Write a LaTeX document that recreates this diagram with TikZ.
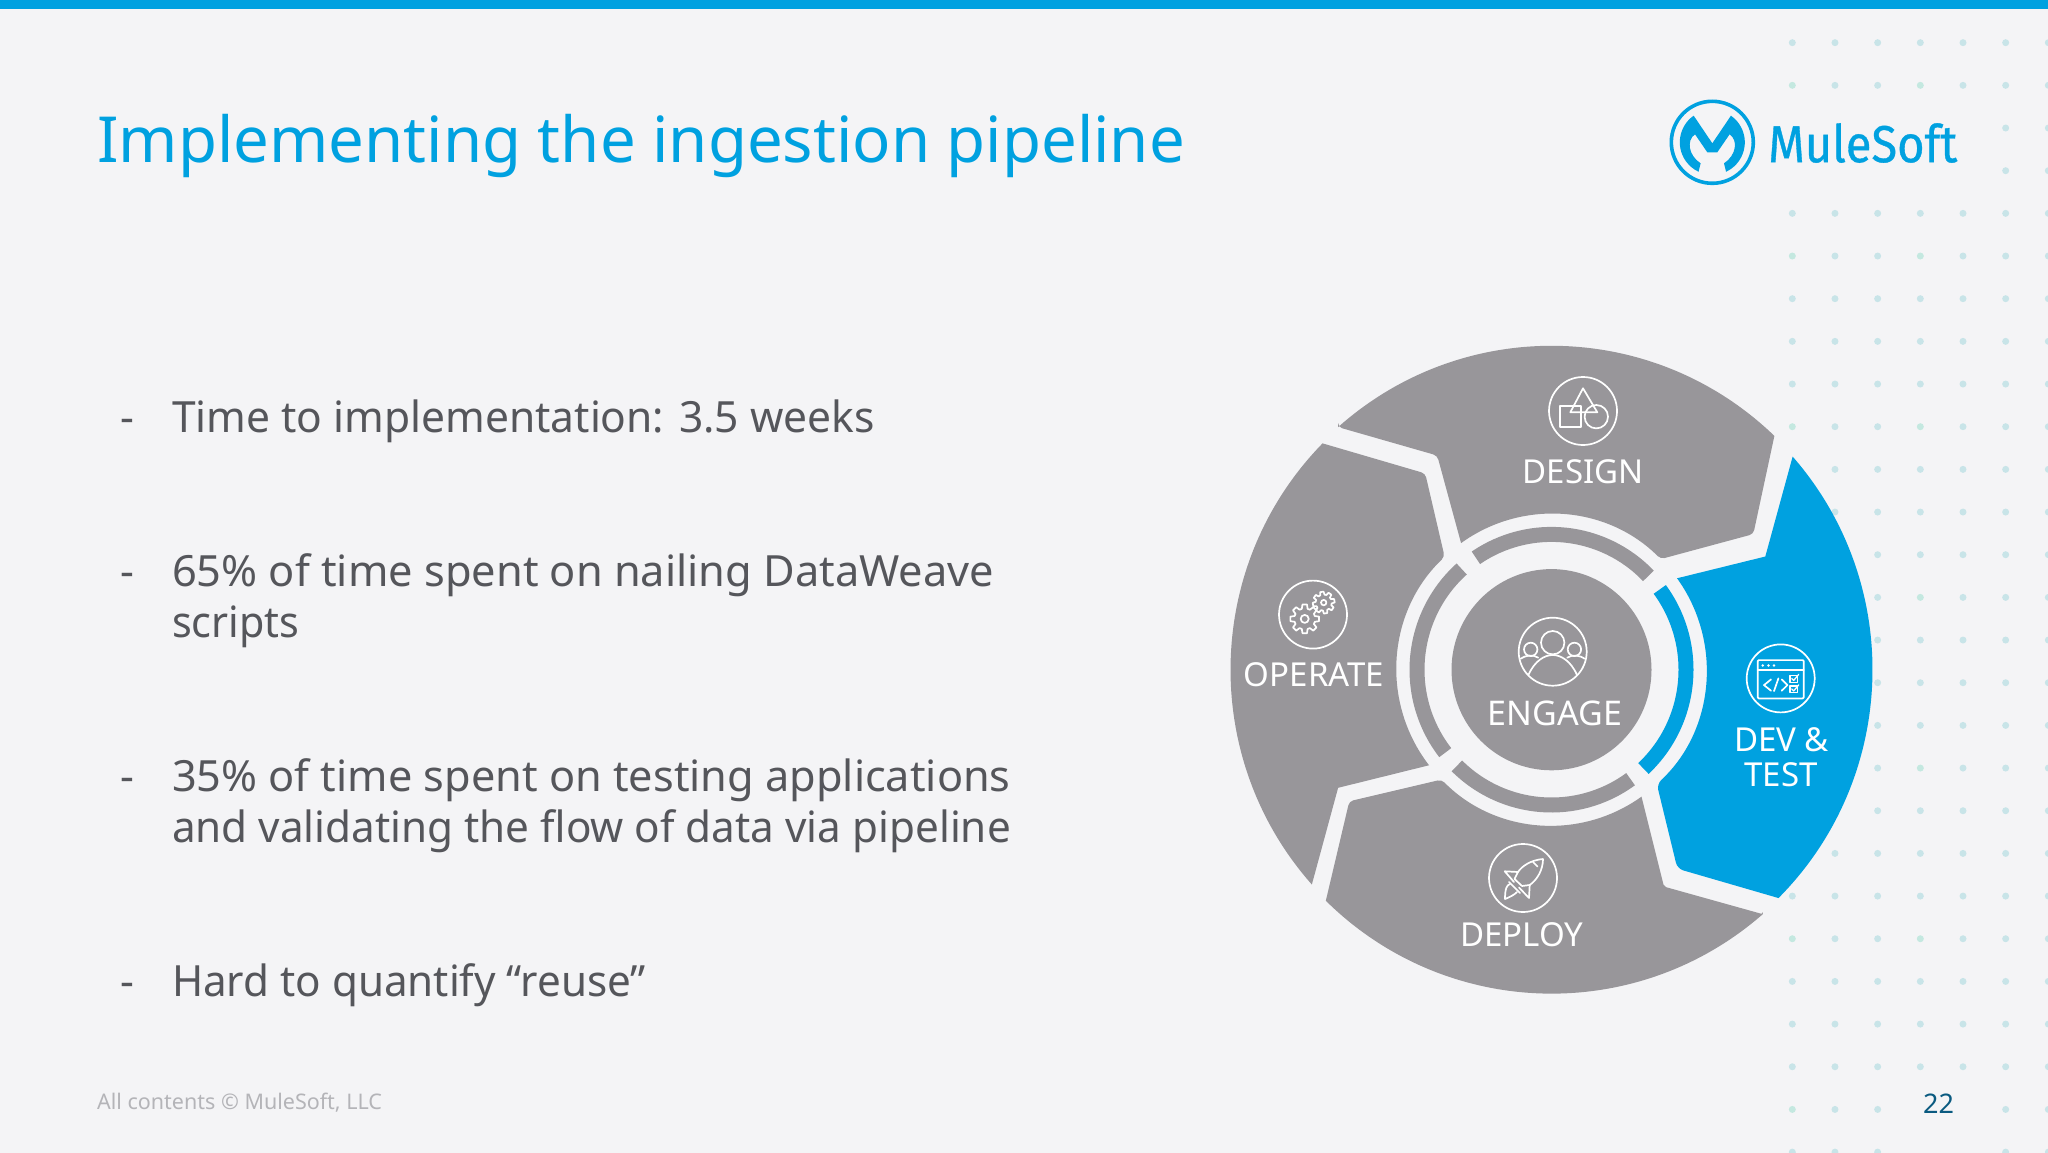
\documentclass[tikz,border=0pt]{standalone}
\usepackage{fontspec}
\setmainfont{Noto Sans}
\newfontfamily\logofont[FakeBold=0.7]{Fira Sans}
\definecolor{bgc}{HTML}{F4F4F6}
\definecolor{sfblue}{HTML}{00A1E0}
\definecolor{wheelgray}{HTML}{98969A}
\definecolor{bodytxt}{HTML}{55565B}
\definecolor{foot}{HTML}{B4B4B8}
\definecolor{pagenum}{HTML}{0A5A80}
\definecolor{dotc}{HTML}{C8E4E8}
\definecolor{dotm}{HTML}{C4E8E0}
\tikzset{
  txt/.style={anchor=base west,inner sep=0pt,outer sep=0pt,font=\fontsize{43}{50}\selectfont,text=bodytxt},
  lab/.style={anchor=base,inner sep=0pt,outer sep=0pt,font=\fontsize{33}{38}\selectfont,text=white},
  ico/.style={draw=white,line width=1.7pt,line cap=round,line join=round},
  seg/.style={line join=round}
}
\newcommand{\gearpath}[6]{% x y ro ri hole rot
  \draw[ico] (#1,#2) circle[radius=#5];
  \draw[ico] ({#1+#3*cos(#6-9)},{#2+#3*sin(#6-9)})
    \foreach \t in {0,45,...,315}{
      -- ({#1+#3*cos(\t+#6-9)},{#2+#3*sin(\t+#6-9)})
      -- ({#1+#3*cos(\t+#6+9)},{#2+#3*sin(\t+#6+9)})
      -- ({#1+#4*cos(\t+#6+16)},{#2+#4*sin(\t+#6+16)})
      -- ({#1+#4*cos(\t+#6+29)},{#2+#4*sin(\t+#6+29)})
    } -- cycle;
}
\begin{document}
\begin{tikzpicture}[x=1pt,y=1pt]
\useasboundingbox (0,0) rectangle (2048,-1153);
\fill[bgc] (0,0) rectangle (2048,-1153);
\fill[sfblue] (0,0) rectangle (2048,-9);
% dots
\begin{scope}
\clip (0,0) rectangle (2048,-1153);
\foreach \k in {1,...,27}{
  \foreach \i in {0,...,6}{
    \pgfmathsetmacro{\dx}{1792.3+42.67*\i}
    \pgfmathsetmacro{\dy}{42.67*\k}
    \pgfmathsetmacro{\rr}{veclen(\dx-1551.5,\dy-669.5)}
    \pgfmathtruncatemacro{\keep}{(\rr>318)*(1-((\k==3||\k==4)&&\i<5))*(1-(\k>25&&(\i==3||\i==4)))}
    \pgfmathtruncatemacro{\mint}{(Mod(\k,4)==2)&&(\i==0||\i==3)}
    \ifnum\keep=1
      \ifnum\mint=1
        \fill[dotm] (\dx,-\dy) circle[radius=3.5];
      \else
        \fill[dotc] (\dx,-\dy) circle[radius=3.5];
      \fi
    \fi
  }
}
\end{scope}
% title
\node[anchor=base west,inner sep=0pt,font=\fontsize{63.5}{72}\selectfont,text=sfblue] (title) at (97,-162.2) {Implementing the ingestion pipeline};
% logo
\begin{scope}[shift={(1712.3,-142.3)}]
\draw[sfblue,line width=3.6pt] (0,0) circle[radius=41];
\fill[sfblue] (125:32.5) arc[start angle=125,end angle=245,radius=32.5]
  -- (-11.7,-21) .. controls (-24,-13) and (-26,2) .. (-17.3,8) -- (-5,-10) -- (5,-10) -- (17.3,8)
  .. controls (26,2) and (24,-13) .. (11.7,-21) -- (-65:32.5)
  arc[start angle=-65,end angle=55,radius=32.5] -- (0,-1) -- cycle;
\end{scope}
\node[anchor=base west,inner sep=0pt,font=\logofont\fontsize{52}{60}\selectfont,text=sfblue] (logo) at (1768,-162.2) {\scalebox{0.905}[1]{MuleSoft}};
% bullets
\node[txt] (d1) at (120,-432) {-};
\node[txt] (b1) at (172,-432) {\scalebox{0.989}[1]{Time to implementation: 3.5 weeks}};
\node[txt] (d2) at (120,-586) {-};
\node[txt] (b2a) at (172,-586) {\scalebox{1.008}[1]{65\% of time spent on nailing DataWeave}};
\node[txt] (b2b) at (172,-637) {\scalebox{0.96}[1]{scripts}};
\node[txt] (d3) at (120,-791) {-};
\node[txt] (b3a) at (172,-791) {\scalebox{1.006}[1]{35\% of time spent on testing applications}};
\node[txt] (b3b) at (172,-842) {\scalebox{0.982}[1]{and validating the flow of data via pipeline}};
\node[txt] (d4) at (120,-996) {-};
\node[txt] (b4) at (172,-996) {\scalebox{0.981}[1]{Hard to quantify “reuse”}};
% footer
\node[anchor=base west,inner sep=0pt,font=\fontsize{21.5}{26}\selectfont,text=foot] (foot) at (97,-1109.3) {All contents © MuleSoft, LLC};
\node[anchor=base west,inner sep=0pt,font=\fontsize{27}{32}\selectfont,text=pagenum] (page) at (1923,-1113) {22};
% wheel
\begin{scope}[shift={(1551.5,-669.7)},yscale=1.006]
\fill[wheelgray,seg] (131.5:322) arc[start angle=131.5,end angle=46.2,radius=322]
  [rounded corners=4] -- (201.8,134.8) -- (45.2:155) [sharp corners]
  arc[start angle=45.2,end angle=125.7,radius=155]
  [rounded corners=4] -- (-114.3,212.9) -- (131.5:322) [sharp corners] -- cycle;
\fill[sfblue,seg] (41.3:321) arc[start angle=41.3,end angle=-45,radius=321]
  [rounded corners=6] -- (125.9,-197.8) -- (-47.2:155) [sharp corners]
  arc[start angle=-47.2,end angle=35.9,radius=155]
  -- (213.8,112.5) -- cycle;
\fill[wheelgray,seg] (-49:322) arc[start angle=-49,end angle=-134.5,radius=322]
  [rounded corners=4] -- (-202.2,-130.8) -- (-135.2:155) [sharp corners]
  arc[start angle=-135.2,end angle=-54.5,radius=155]
  [rounded corners=2] -- (112.5,-215.6) -- (-49:322) [sharp corners] -- cycle;
\fill[wheelgray,seg] (221.7:321) arc[start angle=221.7,end angle=135.5,radius=321]
  [rounded corners=4] -- (-126.3,195.1) -- (133.6:155) [sharp corners]
  arc[start angle=133.6,end angle=217.8,radius=155]
  -- (-213.4,-117.4) -- cycle;
% ring
\draw[wheelgray,line width=15pt] (124.2:134.5) arc[start angle=124.2,end angle=43.9,radius=134.5];
\draw[wheelgray,line width=15pt] (131.9:134.5) arc[start angle=131.9,end angle=217.8,radius=134.5];
\draw[wheelgray,line width=15pt] (225.3:134.5) arc[start angle=225.3,end angle=306,radius=134.5];
\draw[sfblue,line width=15pt] (36.4:134.5) arc[start angle=36.4,end angle=-46.9,radius=134.5];
\fill[wheelgray] (0,0) circle[radius=100];
\end{scope}
% labels
\node[lab] (design) at (1583,-483) {DESIGN};
\node[lab] (operate) at (1314,-686) {OPERATE};
\node[lab,font=\fontsize{34}{40}\selectfont] (engage) at (1555,-725) {ENGAGE};
\node[lab] (deploy) at (1522,-946) {DEPLOY};
\node[lab] (dev) at (1781.5,-751) {DEV \&};
\node[lab] (test) at (1781,-786.7) {TEST};
% design icon
\begin{scope}[shift={(1583,-411)}]
\draw[ico] (0,0) circle[radius=34];
\draw[ico] (0,22.7) -- (-12.7,-1.3) -- (14.3,-1.3) -- cycle;
\draw[ico] (-22.7,4.7) rectangle (-2.3,-15.7);
\draw[ico] (13.3,-5.7) circle[radius=11.7];
\end{scope}
% operate icon
\begin{scope}[shift={(1313,-614.6)}]
\draw[ico] (0,0) circle[radius=34];
\gearpath{-8.3}{-4.3}{14.5}{10.5}{4}{0}
\gearpath{10.7}{12}{11}{8}{2.7}{10}
\end{scope}
% engage icon
\begin{scope}[shift={(1552.7,-651.7)}]
\draw[ico] (0,0) circle[radius=34];
\draw[ico] (0,9) circle[radius=11.7];
\draw[ico] (-22,2.3) circle[radius=6.7];
\draw[ico] (21.7,2.3) circle[radius=6.7];
\draw[ico] (-24.3,-23.3) .. controls (-18,-9) and (-8,-3.3) .. (0,-3.3) .. controls (8,-3.3) and (18,-9) .. (24.3,-23.3);
\draw[ico] (-32,-7) .. controls (-28,-4) and (-20,-2) .. (-14.5,-6);
\draw[ico] (32,-7) .. controls (28,-4) and (20,-2) .. (14.5,-6);
\end{scope}
% deploy icon
\begin{scope}[shift={(1523,-878)}]
\draw[ico] (0,0) circle[radius=34];
\draw[ico] (20,19) .. controls (8,18) and (-1,12) .. (-5,6) -- (-8.5,-1) -- (-1,-8) -- (6.7,-7) .. controls (14,-2) and (20,8) .. (20,19);
\draw[ico] (-5,6) -- (-18.3,6.7) -- (-9,-4) ;
\draw[ico] (6.7,-7) -- (6,-20) -- (-4,-9.5);
\draw[ico] (-14,-4) -- (-3,-15);
\draw[ico] (-13,-6) .. controls (-16,-7) and (-18,-10) .. (-18,-21) .. controls (-13,-19) and (-9,-17) .. (-6,-14);
\draw[ico] (10,16) -- (14.5,11.5);
\end{scope}
% dev icon
\begin{scope}[shift={(1780.7,-678.4)}]
\draw[ico] (0,0) circle[radius=34];
\draw[ico,rounded corners=1] (-23,18.3) rectangle (23,-20);
\draw[ico] (-23,8.3) -- (23,8.3);
\fill[white] (-18,12.9) circle[radius=1.4] (-12.3,12.9) circle[radius=1.4] (-6.7,12.9) circle[radius=1.4];
\draw[ico] (-9.7,-1) -- (-16.7,-6.7) -- (-9.7,-12.3);
\draw[ico] (-6.7,-12.7) -- (-2.3,0);
\draw[ico] (1,-1) -- (6.7,-6.7) -- (1,-12.3);
\draw[ico,line width=1.3pt] (9.3,2.7) rectangle (16.7,-4);
\draw[ico,line width=1.3pt] (9.3,-7.7) rectangle (16.7,-14.3);
\draw[ico,line width=1.3pt] (11,0) -- (13,-2) -- (18,4);
\draw[ico,line width=1.3pt] (11,-10.5) -- (13,-12.5) -- (18,-6.5);
\end{scope}
\end{tikzpicture}
\end{document}
